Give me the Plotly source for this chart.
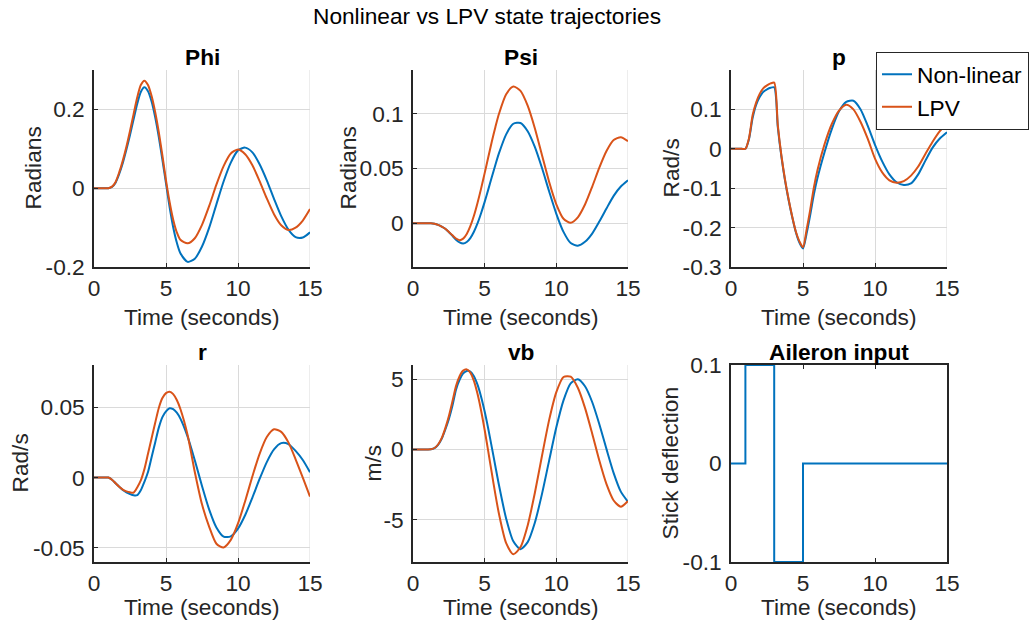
import plotly.graph_objects as go

# ---------------------------------------------------------------------------
# Simulation output (time in seconds)
# ---------------------------------------------------------------------------
time = [0, 0.25, 0.5, 0.75, 1.0, 1.25, 1.5, 1.75, 2.0, 2.25, 2.5, 2.75, 3.0,
        3.25, 3.5, 3.75, 4.0, 4.25, 4.5, 4.75, 5.0, 5.25, 5.5, 5.75, 6.0,
        6.5, 7.0, 7.5, 8.0, 8.5, 9.0, 9.5, 10.0, 10.5, 11.0, 11.5, 12.0,
        12.5, 13.0, 13.5, 14.0, 14.5, 15.0]

# Bank angle Phi (rad)
phi_nl = [0, 0, 0, 0, 0,
          0.003, 0.014, 0.036, 0.064, 0.098, 0.135, 0.175, 0.214,
          0.244, 0.256, 0.246, 0.220, 0.180, 0.130, 0.072, 0.012,
          -0.048, -0.099, -0.138, -0.165,
          -0.187, -0.179, -0.148, -0.100, -0.041, 0.017, 0.065, 0.096, 0.103,
          0.091, 0.061, 0.020, -0.027, -0.071, -0.105, -0.124, -0.125, -0.112]
phi_lpv = [0, 0, 0, 0, 0,
           0.004, 0.016, 0.040, 0.070, 0.105, 0.145, 0.188, 0.230,
           0.262, 0.273, 0.262, 0.234, 0.193, 0.142, 0.083, 0.020,
           -0.035, -0.080, -0.112, -0.131,
           -0.140, -0.127, -0.093, -0.045, 0.009, 0.056, 0.088, 0.098, 0.086,
           0.058, 0.018, -0.026, -0.066, -0.094, -0.106, -0.100, -0.082, -0.053]

# Heading angle Psi (rad)
psi_nl = [0, 0, 0, 0, 0,
          0.0, -0.0005, -0.0015, -0.003, -0.005, -0.008, -0.0115, -0.015,
          -0.0175, -0.0185, -0.0172, -0.0136, -0.0078, -0.0002, 0.0091, 0.0195,
          0.0307, 0.0422, 0.0534, 0.064,
          0.0812, 0.0909, 0.0916, 0.0841, 0.0697, 0.0504, 0.029, 0.0086, -0.0079,
          -0.0181, -0.0205, -0.017, -0.0095, 0.0015, 0.0135, 0.025, 0.0335, 0.0392]
psi_lpv = [0, 0, 0, 0, 0,
           0.0, -0.0005, -0.0015, -0.003, -0.005, -0.008, -0.011, -0.014,
           -0.0155, -0.0141, -0.0098, -0.0027, 0.0068, 0.0185, 0.0316, 0.0458,
           0.0603, 0.0746, 0.088, 0.100,
           0.1178, 0.1249, 0.1209, 0.1074, 0.0868, 0.0622, 0.0377, 0.0173, 0.0041,
           0.0004, 0.0054, 0.0171, 0.0333, 0.0508, 0.066, 0.076, 0.0786, 0.075]

# Roll rate p (rad/s)
p_nl = [0, 0, 0, 0, 0,
        0.025, 0.078, 0.112, 0.132, 0.145, 0.151, 0.155, 0.156,
        0.055, -0.020, -0.080, -0.130, -0.173, -0.211, -0.238, -0.253,
        -0.215, -0.168, -0.117, -0.075,
        -0.008, 0.050, 0.095, 0.119, 0.122, 0.100, 0.058, 0.010, -0.032,
        -0.065, -0.085, -0.092, -0.088, -0.065, -0.030, 0.003, 0.026, 0.042]
p_lpv = [0, 0, 0, 0, 0,
         0.027, 0.085, 0.118, 0.140, 0.154, 0.161, 0.166, 0.168,
         0.060, -0.017, -0.078, -0.128, -0.172, -0.210, -0.235, -0.250,
         -0.205, -0.155, -0.099, -0.055,
         0.012, 0.063, 0.097, 0.112, 0.100, 0.068, 0.025, -0.025, -0.060,
         -0.080, -0.086, -0.082, -0.068, -0.045, -0.013, 0.018, 0.045, 0.065]

# Yaw rate r (rad/s)
r_nl = [0, 0, 0, 0, 0,
        -0.0015, -0.004, -0.0065, -0.0088, -0.0105, -0.0117, -0.0126, -0.0125,
        -0.009, -0.003, 0.004, 0.0145, 0.025, 0.0355, 0.043, 0.047,
        0.0493, 0.0486, 0.0461, 0.0419,
        0.0291, 0.0123, -0.006, -0.0228, -0.0355, -0.042, -0.0418, -0.0363, -0.0266,
        -0.0142, -0.001, 0.011, 0.020, 0.0245, 0.0238, 0.019, 0.0125, 0.0038]
r_lpv = [0, 0, 0, 0, 0,
         -0.0015, -0.004, -0.0065, -0.0085, -0.0098, -0.0105, -0.0107, -0.007,
         -0.002, 0.006, 0.017, 0.028, 0.039, 0.0495, 0.0565, 0.060,
         0.061, 0.0593, 0.0551, 0.0487,
         0.0303, 0.004, -0.019, -0.035, -0.047, -0.0497, -0.0443, -0.0326, -0.0166,
         0.0009, 0.0169, 0.0288, 0.0343, 0.0325, 0.025, 0.013, 0.0, -0.0135]

# Lateral body velocity vb (m/s)
vb_nl = [0, 0, 0, 0, 0,
         0.01, 0.09, 0.32, 0.75, 1.4, 2.15, 3.1, 4.25,
         4.95, 5.4, 5.58, 5.53, 5.2, 4.6, 3.75, 2.69,
         1.47, 0.15, -1.21, -2.55,
         -4.92, -6.53, -7.09, -6.59, -5.21, -3.16, -0.78, 1.57, 3.49,
         4.7, 4.99, 4.49, 3.37, 1.79, 0.02, -1.68, -3.0, -3.72]
vb_lpv = [0, 0, 0, 0, 0,
          0.01, 0.1, 0.35, 0.8, 1.5, 2.35, 3.4, 4.5,
          5.2, 5.6, 5.69, 5.46, 4.87, 3.95, 2.77, 1.38,
          -0.14, -1.69, -3.21, -4.59,
          -6.66, -7.45, -6.94, -5.4, -3.1, -0.45, 2.1, 4.07, 5.15,
          5.17, 4.38, 2.95, 1.13, -0.79, -2.47, -3.63, -4.07, -3.67]

# Aileron doublet (stick deflection, held between switch times)
aileron_time = [0, 1, 3, 5, 15]
aileron_cmd = [0, 0.1, -0.1, 0, 0]

# Axis ticks
x_ticks = [0, 5, 10, 15]
x_tick_labels = ["0", "5", "10", "15"]

series_names = ["Non-linear", "LPV"]

# ---------------------------------------------------------------------------
# Styling
# ---------------------------------------------------------------------------
W, H = 1031, 633
FONT = "Liberation Sans, Arial, Helvetica, sans-serif"
AX = "#262626"
GRID = "#dadada"
BLUE = "#0072BD"
ORANGE = "#D95319"
FS = 22.7

cols = [(94, 310), (413, 628), (731, 947)]
rows = [(70, 267), (365, 562)]
title_y = [57, 352]
xlabel_y = [317, 607]


def fx(px):
    return px / W


def fy(py):
    return 1 - py / H


panels = [
    dict(title="Phi", ylabel="Radians", yrange=[-0.2, 0.3],
         yticks=[-0.2, 0, 0.2], ylabels=["-0.2", "0", "0.2"],
         data=(phi_nl, phi_lpv), ylab_x=32),
    dict(title="Psi", ylabel="Radians", yrange=[-0.04, 0.14],
         yticks=[0, 0.05, 0.1], ylabels=["0", "0.05", "0.1"],
         data=(psi_nl, psi_lpv), ylab_x=347),
    dict(title="p", ylabel="Rad/s", yrange=[-0.3, 0.2],
         yticks=[-0.3, -0.2, -0.1, 0, 0.1], ylabels=["-0.3", "-0.2", "-0.1", "0", "0.1"],
         data=(p_nl, p_lpv), ylab_x=670),
    dict(title="r", ylabel="Rad/s", yrange=[-0.06, 0.08],
         yticks=[-0.05, 0, 0.05], ylabels=["-0.05", "0", "0.05"],
         data=(r_nl, r_lpv), ylab_x=19),
    dict(title="vb", ylabel="m/s", yrange=[-8, 6],
         yticks=[-5, 0, 5], ylabels=["-5", "0", "5"],
         data=(vb_nl, vb_lpv), ylab_x=372),
    dict(title="Aileron input", ylabel="Stick deflection", yrange=[-0.1, 0.1],
         yticks=[-0.1, 0, 0.1], ylabels=["-0.1", "0", "0.1"],
         data=None, ylab_x=669),
]

fig = go.Figure()
layout = dict(
    width=W, height=H, autosize=False,
    margin=dict(l=0, r=0, t=0, b=0, pad=0),
    paper_bgcolor="white", plot_bgcolor="white",
    font=dict(family=FONT, size=FS, color=AX),
    showlegend=True,
    # anchored by its right edge so the box stays inside the figure
    legend=dict(x=fx(1029), y=fy(52), xanchor="right", yanchor="top",
                bgcolor="white", bordercolor=AX, borderwidth=1,
                font=dict(family=FONT, size=FS, color="#000000"),
                tracegroupgap=0, itemwidth=30),
)
annotations = []
shapes = []

for i, pnl in enumerate(panels):
    r_i, c_i = divmod(i, 3)
    x0, x1 = cols[c_i]
    top, bot = rows[r_i]
    n = i + 1
    xa = "x" if n == 1 else f"x{n}"
    ya = "y" if n == 1 else f"y{n}"
    boxed = pnl["data"] is None

    common = dict(
        showline=True, linecolor=AX, linewidth=1.5,
        ticks="inside", ticklen=4, tickwidth=1, tickcolor=AX,
        zeroline=False, showgrid=not boxed, gridcolor=GRID, gridwidth=1,
        tickfont=dict(family=FONT, size=FS, color=AX),
        fixedrange=True, automargin=False,
    )
    if boxed:
        common.update(mirror="ticks", layer="below traces")

    layout["xaxis" if n == 1 else f"xaxis{n}"] = dict(
        common, domain=[fx(x0), fx(x1)], range=[0, 15], anchor=ya,
        tickmode="array", tickvals=x_ticks, ticktext=x_tick_labels,
        ticklabelstandoff=0)
    layout["yaxis" if n == 1 else f"yaxis{n}"] = dict(
        common, domain=[fy(bot), fy(top)], range=pnl["yrange"], anchor=xa,
        tickmode="array", tickvals=pnl["yticks"], ticktext=pnl["ylabels"],
        ticklabelstandoff=3)

    if boxed:
        fig.add_trace(go.Scatter(
            x=aileron_time, y=aileron_cmd, mode="lines", line_shape="hv",
            line=dict(color=BLUE, width=2), xaxis=xa, yaxis=ya,
            showlegend=False, hoverinfo="skip"))
    else:
        # grid line on the last x tick (plotly drops grid lines at the range end)
        shapes.append(dict(
            type="line", xref=xa, yref=f"{ya} domain",
            x0=x_ticks[-1], x1=x_ticks[-1], y0=0, y1=1,
            line=dict(color=GRID, width=1), layer="below"))
        nl, lpv = pnl["data"]
        for vals, name, color in ((nl, series_names[0], BLUE),
                                  (lpv, series_names[1], ORANGE)):
            fig.add_trace(go.Scatter(
                x=time, y=vals, mode="lines", name=name,
                line=dict(color=color, width=2, shape="spline", smoothing=0.7),
                xaxis=xa, yaxis=ya, legendgroup=name,
                showlegend=(n == 1)))

    # panel title
    annotations.append(dict(
        text=f"<b>{pnl['title']}</b>", x=fx((x0 + x1) / 2), y=fy(title_y[r_i]),
        xref="paper", yref="paper", xanchor="center", yanchor="middle",
        showarrow=False, font=dict(family=FONT, size=FS, color="#000000")))
    # x label
    annotations.append(dict(
        text="Time (seconds)", x=fx((x0 + x1) / 2), y=fy(xlabel_y[r_i]),
        xref="paper", yref="paper", xanchor="center", yanchor="middle",
        showarrow=False, font=dict(family=FONT, size=FS, color=AX)))
    # y label
    annotations.append(dict(
        text=pnl["ylabel"], x=fx(pnl["ylab_x"]), y=fy((top + bot) / 2),
        xref="paper", yref="paper", xanchor="center", yanchor="middle",
        textangle=-90, showarrow=False, font=dict(family=FONT, size=FS, color=AX)))

annotations.append(dict(
    text="Nonlinear vs LPV state trajectories", x=fx(487), y=fy(16),
    xref="paper", yref="paper", xanchor="center", yanchor="middle",
    showarrow=False, font=dict(family=FONT, size=FS, color="#000000")))

layout["annotations"] = annotations
layout["shapes"] = shapes
fig.update_layout(layout)
fig.write_html(
    "out.html",
    config={"responsive": False, "displayModeBar": False},
    post_script="document.body.style.margin='0';document.body.style.overflow='hidden';",
)
